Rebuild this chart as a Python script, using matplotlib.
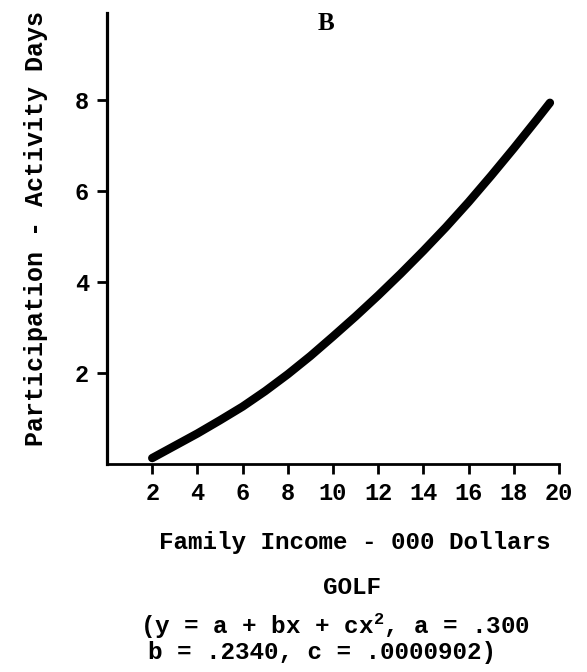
import matplotlib
matplotlib.use('Agg')
import matplotlib.pyplot as plt

# income (000 dollars) vs participation (activity days)
income = [2, 3, 4, 5, 6, 7, 8, 9, 10, 11, 12, 13, 14, 15, 16, 17, 18, 19, 19.6]
days = [0.13, 0.40, 0.67, 0.96, 1.26, 1.60, 1.97, 2.37, 2.80, 3.24, 3.70,
        4.18, 4.68, 5.20, 5.75, 6.33, 6.93, 7.55, 7.93]

x_ticks = [2, 4, 6, 8, 10, 12, 14, 16, 18, 20]
y_ticks = [2, 4, 6, 8]

plt.rcParams['font.family'] = ['Liberation Mono', 'DejaVu Sans Mono']
plt.rcParams['font.weight'] = 'bold'
plt.rcParams['mathtext.fontset'] = 'custom'
plt.rcParams['mathtext.rm'] = 'Liberation Mono:bold'
plt.rcParams['mathtext.it'] = 'Liberation Mono:bold'

W, H = 587, 672
fig = plt.figure(figsize=(W / 100, H / 100), dpi=100)
ax = fig.add_axes([107 / W, 1 - 464 / H, (559 - 107) / W, (464 - 13) / H])

ax.plot(income, days, color='black', lw=6, solid_capstyle='round',
        solid_joinstyle='round')

ax.set_xlim(0, 20)
ax.set_ylim(0, 9.9)
ax.set_xticks(x_ticks)
ax.set_yticks(y_ticks)
ax.tick_params(axis='both', direction='out', length=7, width=2,
               labelsize=17, pad=6, colors='black')

for s in ['top', 'right']:
    ax.spines[s].set_visible(False)
ax.spines['left'].set_linewidth(2.3)
ax.spines['bottom'].set_linewidth(2)

fig.text(36 / W, 1 - 229 / H, 'Participation - Activity Days', rotation=90,
         ha='center', va='center', fontsize=18)
fig.text(326 / W, 1 - 23 / H, 'B', ha='center', va='center', fontsize=18,
         family='Liberation Serif')
fig.text(355 / W, 1 - 543 / H, 'Family Income - 000 Dollars',
         ha='center', va='center', fontsize=17.5)
fig.text(352 / W, 1 - 588 / H, 'GOLF', ha='center', va='center', fontsize=17.5)
fig.text(140 / W, 1 - 626 / H, '(y = a + bx + cx$^2$, a = .300',
         ha='left', va='center', fontsize=17.5)
fig.text(148 / W, 1 - 652 / H, 'b = .2340, c = .0000902)',
         ha='left', va='center', fontsize=17.5)

fig.savefig('out.png', dpi=100)
